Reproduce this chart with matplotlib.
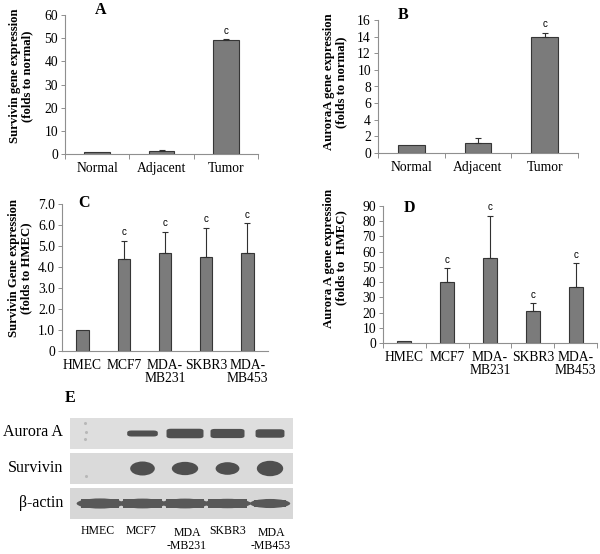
import matplotlib
matplotlib.use("Agg")
import matplotlib.pyplot as plt
from matplotlib.patches import Rectangle, FancyBboxPatch, Ellipse
import numpy as np

plt.rcParams['font.family'] = ['Liberation Serif', 'DejaVu Serif']

# ---------------- data ----------------
tissue_cats = ['Normal', 'Adjacent', 'Tumor']
survivin_tissue = [1.0, 1.5, 49.0]
survivin_tissue_err = [0.0, 0.3, 0.6]
aurora_tissue = [1.0, 1.25, 14.0]
aurora_tissue_err = [0.0, 0.5, 0.45]
tissue_sig = ['', '', 'c']

cell_lines = ['HMEC', 'MCF7', 'MDA-\nMB231', 'SKBR3', 'MDA-\nMB453']
survivin_cells = [1.0, 4.38, 4.68, 4.48, 4.68]
survivin_cells_err = [0.0, 0.88, 1.0, 1.4, 1.4]
aurora_cells = [1.0, 39.8, 55.6, 20.7, 37.0]
aurora_cells_err = [0.0, 9.2, 28.0, 5.3, 15.3]
cells_sig = ['', 'c', 'c', 'c', 'c']

C_ticks = [0, 1, 2, 3, 4, 5, 6, 7]
C_ticklabels = ['0', '1.0', '2.0', '3.0', '4.0', '5.0', '6.0', '7.0']

blot_rows = ['Aurora A', 'Survivin', 'β-actin']
blot_lanes = ['HMEC', 'MCF7', 'MDA\n-MB231', 'SKBR3', 'MDA\n-MB453']
aurora_band_w = [0.0, 0.80, 0.95, 0.88, 0.76]
aurora_band_h = [0.0, 0.18, 0.28, 0.27, 0.25]
survivin_band_w = [0.0, 0.58, 0.62, 0.56, 0.62]
survivin_band_h = [0.0, 0.40, 0.38, 0.36, 0.44]
actin_band_w = [1.0, 1.0, 1.0, 1.0, 0.85]
actin_band_h = [0.29, 0.28, 0.28, 0.27, 0.26]

# ---------------- layout helpers ----------------
W, H = 600, 554
fig = plt.figure(figsize=(6.0, 5.54), dpi=100)

def ax_px(left, right, top, bottom):
    return fig.add_axes([left / W, 1 - bottom / H, (right - left) / W, (bottom - top) / H])

def ftext(x, y, s, **kw):
    fig.text(x / W, 1 - y / H, s, **kw)

BAR_FC = '#7b7b7b'
BAR_EC = '#363636'
AX_C = '#8f8f8f'
TICK_FS = 9.8
LBL_FS = 9.2

def bar_panel(ax, cats, vals, errs, sig, ylim, yticks, width, yticklabels=None):
    x = np.arange(len(cats))
    ax.bar(x, vals, width=width, color=BAR_FC, edgecolor=BAR_EC, linewidth=0.8, zorder=2)
    errs = np.array(errs)
    m = errs > 0
    ax.errorbar(x[m], np.array(vals)[m], yerr=[np.zeros(m.sum()), errs[m]],
                fmt='none', ecolor='#303030', elinewidth=0.8, capsize=2.2,
                capthick=0.8, zorder=3)
    for xi, v, e, s in zip(x, vals, errs, sig):
        if s:
            ax.annotate(s, (xi, v + e), xytext=(0, 2.5), textcoords='offset points',
                        ha='center', va='bottom', fontsize=7,
                        family=['Liberation Sans', 'DejaVu Sans'])
    ax.set_xlim(-0.5, len(cats) - 0.5)
    ax.set_ylim(*ylim)
    ax.set_yticks(yticks)
    if yticklabels is not None:
        ax.set_yticklabels(yticklabels)
    ax.set_xticks(x)
    ax.set_xticklabels(cats, fontsize=TICK_FS, linespacing=1.0)
    ax.tick_params(axis='x', length=0, pad=6)
    ax.set_xticks(np.arange(-0.5, len(cats)), minor=True)
    ax.tick_params(axis='x', which='minor', length=3.5, color=AX_C, width=0.7)
    ax.tick_params(axis='y', length=3, color=AX_C, width=0.7, labelsize=TICK_FS, pad=2)
    for sp in ['top', 'right']:
        ax.spines[sp].set_visible(False)
    for sp in ['left', 'bottom']:
        ax.spines[sp].set_color(AX_C)
        ax.spines[sp].set_linewidth(0.8)
    ax.patch.set_alpha(0)

# Panel A
axA = ax_px(65, 258, 15, 154)
bar_panel(axA, tissue_cats, survivin_tissue, survivin_tissue_err, tissue_sig,
          (0, 60), np.arange(0, 61, 10), 0.4)
ftext(21, 76, 'Survivin gene expression\n(folds to normal)', rotation=90,
      ha='center', va='center', fontsize=LBL_FS, fontweight='bold', linespacing=1.1)
ftext(101, 10, 'A', ha='center', va='center', fontsize=11.5, fontweight='bold')

# Panel B
axB = ax_px(378, 578, 20, 153)
bar_panel(axB, tissue_cats, aurora_tissue, aurora_tissue_err, tissue_sig,
          (0, 16), np.arange(0, 17, 2), 0.4)
ftext(335, 82, 'AuroraA gene expression\n(folds to normal)', rotation=90,
      ha='center', va='center', fontsize=LBL_FS, fontweight='bold', linespacing=1.1)
ftext(403, 15, 'B', ha='center', va='center', fontsize=11.5, fontweight='bold')

# Panel C
axC = ax_px(62, 268, 204, 351)
bar_panel(axC, cell_lines, survivin_cells, survivin_cells_err, cells_sig,
          (0, 7), C_ticks, 0.3, yticklabels=C_ticklabels)
axC.tick_params(axis='x', which='minor', length=0)
ftext(20, 268, 'Survivin Gene expression\n(folds to HMEC)', rotation=90,
      ha='center', va='center', fontsize=LBL_FS, fontweight='bold', linespacing=1.1)
ftext(84, 203, 'C', ha='center', va='center', fontsize=11.5, fontweight='bold')

# Panel D
axD = ax_px(383, 597, 206, 343)
bar_panel(axD, cell_lines, aurora_cells, aurora_cells_err, cells_sig,
          (0, 90), np.arange(0, 91, 10), 0.33)
ftext(335, 258, 'Aurora A gene expression\n(folds to  HMEC)', rotation=90,
      ha='center', va='center', fontsize=LBL_FS, fontweight='bold', linespacing=1.1)
ftext(409, 208, 'D', ha='center', va='center', fontsize=11.5, fontweight='bold')

# Panel E: western blot
axE = ax_px(70, 293, 416, 521)
n = len(blot_lanes)
lane_x = np.arange(n)
axE.set_xlim(-0.706, 4.541)
axE.set_ylim(len(blot_rows), 0)
axE.axis('off')
row_bg = ['#dedede', '#dadada', '#d7d7d7']
for r in range(len(blot_rows)):
    axE.add_patch(Rectangle((-0.706, r + 0.05), 5.247, 0.88, facecolor=row_bg[r],
                            edgecolor='none', zorder=1))
BAND = '#4f4f4f'
ACTIN = '#585858'
for i in lane_x:
    w, h = aurora_band_w[i], aurora_band_h[i]
    if w > 0:
        axE.add_patch(FancyBboxPatch((i - w / 2 + 0.1, 0.5 - h / 2 + 0.04), w - 0.2, h - 0.08,
                                     boxstyle='round,pad=0.06,rounding_size=0.1',
                                     mutation_aspect=0.6,
                                     facecolor=BAND, edgecolor='none', zorder=2))
    w, h = survivin_band_w[i], survivin_band_h[i]
    if w > 0:
        axE.add_patch(Ellipse((i, 1.5), w, h, facecolor=BAND, edgecolor='none', zorder=2))
    w, h = actin_band_w[i], actin_band_h[i]
    axE.add_patch(Ellipse((i, 2.5), w + 0.1, h, facecolor=ACTIN, edgecolor='none', zorder=2))
    axE.add_patch(Rectangle((i - w / 2 + 0.05, 2.5 - h / 2 + 0.02), w - 0.1, h - 0.04,
                            facecolor=ACTIN, edgecolor='none', zorder=2))
# faint specks in HMEC lane
axE.plot([-0.35, -0.33, -0.36, -0.34], [0.2, 0.45, 0.65, 1.7], 'o', ms=1.2,
         color='#b8b8b8', zorder=3)

row_y_px = [432, 468, 503]
for name, yp in zip(blot_rows, row_y_px):
    ftext(63, yp, name, ha='right', va='center', fontsize=11.5)
lane_lbl_x = [98, 141, 187, 228, 271]
lane_lbl_y = [525, 525, 527, 525, 527]
for name, xp, yp in zip(blot_lanes, lane_lbl_x, lane_lbl_y):
    ftext(xp, yp, name, ha='center', va='top', fontsize=8.5, linespacing=1.1)
ftext(70, 398, 'E', ha='center', va='center', fontsize=11.5, fontweight='bold')

fig.savefig('out.png', dpi=100, facecolor='white')
